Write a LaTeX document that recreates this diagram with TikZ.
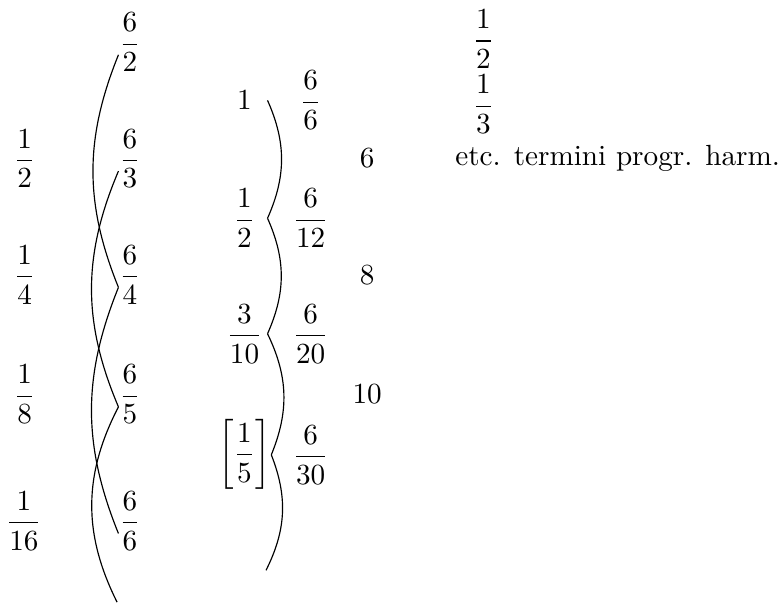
\documentclass[tikz,border=0pt]{standalone}
\usepackage{amsmath}
\begin{document}
\begin{tikzpicture}[scale=0.959]
        \tikzset{frac/.style={inner sep=0pt}, term/.style={inner sep=0pt, minimum width=0.54cm}}
        \useasboundingbox (0,0) rectangle (9.78,7.57);
        \node[frac] (l2) at (0.31,5.58) {$\dfrac{1}{2}$};
        \node[frac] (l4) at (0.31,4.12) {$\dfrac{1}{4}$};
        \node[frac] (l8) at (0.31,2.62) {$\dfrac{1}{8}$};
        \node[frac] (l16) at (0.30,1.03) {$\dfrac{1}{16}$};
        \node[frac] (s2) at (1.63,7.04) {$\dfrac{6}{2}$};
        \node[frac] (s3) at (1.63,5.58) {$\dfrac{6}{3}$};
        \node[frac] (s4) at (1.63,4.12) {$\dfrac{6}{4}$};
        \node[frac] (s5) at (1.63,2.62) {$\dfrac{6}{5}$};
        \node[frac] (s6) at (1.63,1.03) {$\dfrac{6}{6}$};
        \coordinate (s7) at (1.47,0.01);
        \node[term] (m1) at (3.07,6.31) {$1$};
        \node[term] (m2) at (3.07,4.83) {$\dfrac{1}{2}$};
        \node[term] (m3) at (3.07,3.38) {$\dfrac{3}{10}$};
        \node[term] (m5) at (3.07,1.86) {$\left[\dfrac{1}{5}\right]$};
        \coordinate (m6) at (3.34,0.41);
        \node[frac] (q6) at (3.90,6.31) {$\dfrac{6}{6}$};
        \node[frac] (q12) at (3.90,4.83) {$\dfrac{6}{12}$};
        \node[frac] (q20) at (3.90,3.38) {$\dfrac{6}{20}$};
        \node[frac] (q30) at (3.90,1.86) {$\dfrac{6}{30}$};
        \node[frac] (d6) at (4.61,5.58) {$6$};
        \node[frac] (d8) at (4.61,4.12) {$8$};
        \node[frac] (d10) at (4.61,2.62) {$10$};
        \node[frac] (h2) at (6.07,7.08) {$\dfrac{1}{2}$};
        \node[frac] (h3) at (6.07,6.26) {$\dfrac{1}{3}$};
        \node[frac, anchor=west] (note) at (5.71,5.58) {etc. termini progr. harm.};
        \draw ([yshift=-4.5pt]s2.west) to[bend right=22] ([yshift=-4.5pt]s4.west);
        \draw ([yshift=-4.5pt]s3.west) to[bend right=23] ([yshift=-4.5pt]s5.west);
        \draw ([yshift=-4.5pt]s4.west) to[bend right=22] ([yshift=-4.5pt]s6.west);
        \draw ([yshift=-4.5pt]s5.west) to[bend right=27] (s7);
        \draw (m1.east) to[bend left=24] (m2.east);
        \draw (m2.east) to[bend left=24] (m3.east);
        \draw (m3.east) to[bend left=24] (m5.east);
        \draw (m5.east) to[bend left=24] (m6);
\end{tikzpicture}
\end{document}
